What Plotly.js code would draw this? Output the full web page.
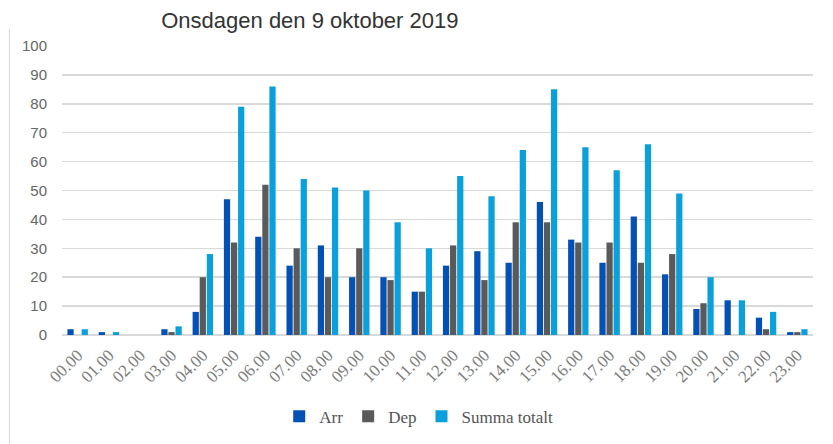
<!DOCTYPE html>
<html><head><meta charset="utf-8">
<script src="https://cdn.plot.ly/plotly-3.0.1.min.js"></script>
<style>body{margin:0;background:#fff}#c{width:833px;height:444px}</style>
</head><body><div id="c"></div>
<script>
const hours = ["00.00","01.00","02.00","03.00","04.00","05.00","06.00","07.00","08.00","09.00","10.00","11.00","12.00","13.00","14.00","15.00","16.00","17.00","18.00","19.00","20.00","21.00","22.00","23.00"];
const arr   = [2,1,0,2,8,47,34,24,31,20,20,15,24,29,25,46,33,25,41,21,9,12,6,1];
const dep   = [0,0,0,1,20,32,52,30,20,30,19,15,31,19,39,39,32,32,25,28,11,0,2,1];
const summa = [2,1,0,3,28,79,86,54,51,50,39,30,55,48,64,85,65,57,66,49,20,12,8,2];
const yTicks = [0,10,20,30,40,50,60,70,80,90,100];

const traces = [
  {type:'bar', name:'Arr', x:hours, y:arr, marker:{color:'#0451b5'}},
  {type:'bar', name:'Dep', x:hours, y:dep, marker:{color:'#5a5a5a'}},
  {type:'bar', name:'Summa totalt', x:hours, y:summa, marker:{color:'#0aa0dc'}}
];
const layout = {
  width:833, height:444,
  margin:{l:62, r:20, t:46, b:109, autoexpand:false},
  paper_bgcolor:'#fff', plot_bgcolor:'#fff',
  title:{text:'Onsdagen den 9 oktober 2019', x:0.372, xanchor:'center', y:0.955, yanchor:'middle',
         font:{family:'Liberation Sans, Arial, sans-serif', size:22, color:'#333'}},
  barmode:'group', bargap:0.32, bargroupgap:0.12,
  xaxis:{type:'category', tickangle:-45, showgrid:false, zeroline:false, showline:false, ticks:'',
         automargin:false, ticklabelstandoff:6,
         tickfont:{family:'Liberation Serif, Times New Roman, serif', size:17, color:'#7a7a7a'}},
  yaxis:{range:[0,100], tickvals:yTicks, showgrid:true, gridcolor:'#d9d9d9', gridwidth:1.5,
         zeroline:true, zerolinecolor:'#d9d9d9', zerolinewidth:1.5, showline:false, ticks:'',
         automargin:false, ticklabelstandoff:14,
         tickfont:{family:'Liberation Sans, Arial, sans-serif', size:15, color:'#666'}},
  legend:{orientation:'h', x:0.475, xanchor:'center', y:-0.22, yanchor:'top',
          font:{family:'Liberation Serif, Times New Roman, serif', size:17, color:'#555'},
          itemwidth:30, traceorder:'normal'},
  shapes:[{type:'line', xref:'paper', yref:'paper', x0:-0.07, x1:-0.07, y0:-0.38, y1:1.06,
           line:{color:'#d9d9d9', width:1}}],
  showlegend:true
};
Plotly.newPlot('c', traces, layout, {displayModeBar:false, staticPlot:true});
</script></body></html>
